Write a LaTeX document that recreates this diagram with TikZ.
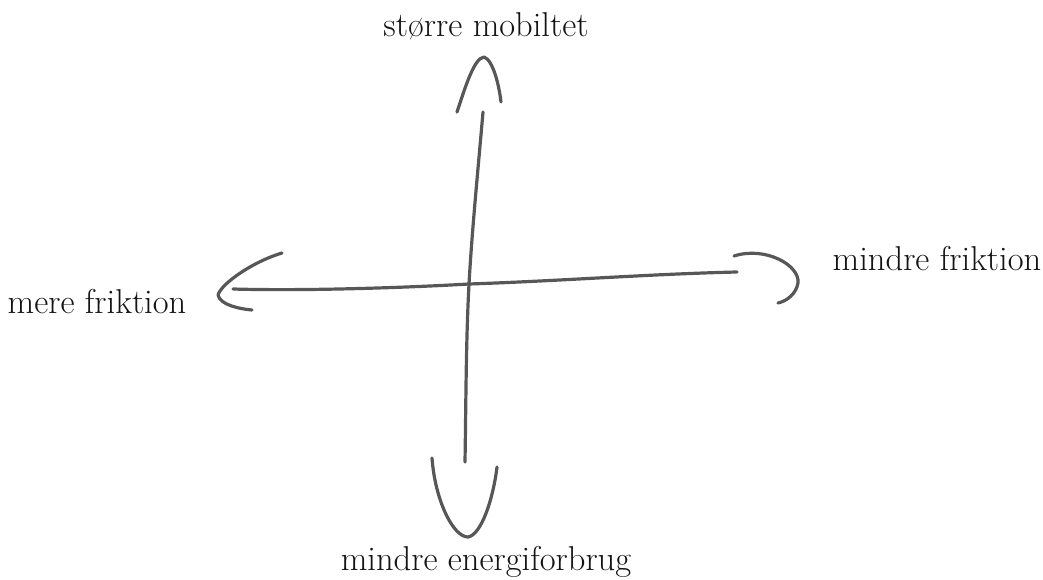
\documentclass[tikz,border=0pt]{standalone}
\begin{document}
\begin{tikzpicture}[x=1pt,y=-1pt,
  stroke/.style={draw=black!66, line width=3.2pt, line cap=round, line join=round},
  lbl/.style={font=\fontsize{34.5}{40}\selectfont, text=black!92, anchor=base, inner sep=0pt}]
\useasboundingbox (0,0) rectangle (1043,580);
% labels
\node[lbl] (top) at (486,37) {større mobiltet};
\node[lbl] (left) at (97,313) {mere friktion};
\node[lbl] (right) at (937,270) {mindre friktion};
\node[lbl] (bottom) at (486,570) {mindre energiforbrug};
% axis coordinates
\coordinate (c) at (469,284);
\coordinate (vt) at (483,112);
\coordinate (vb) at (465,462);
\coordinate (hl) at (233,289);
\coordinate (hr) at (737,272);
% axes
\draw[stroke] (vt) .. controls (478,170) and (472,230) .. (c) .. controls (466,340) and (466,400) .. (vb);
\draw[stroke] (hl) .. controls (300,291) and (400,288) .. (c) .. controls (560,281) and (650,274) .. (hr);
% hand-drawn arrowheads
\draw[stroke] (457,112) .. controls (465,88) and (474,58) .. (484,57) .. controls (493,60) and (499,85) .. (501,102);
\draw[stroke] (282,253) .. controls (252,262) and (221,284) .. (218,295) .. controls (220,305) and (240,309) .. (252,310);
\draw[stroke] (734,256) .. controls (765,246) and (800,265) .. (798,283) .. controls (796,294) and (787,301) .. (778,303);
\draw[stroke] (432,458) .. controls (435,500) and (453,537) .. (468,537) .. controls (481,535) and (493,500) .. (497,467);
\end{tikzpicture}
\end{document}
